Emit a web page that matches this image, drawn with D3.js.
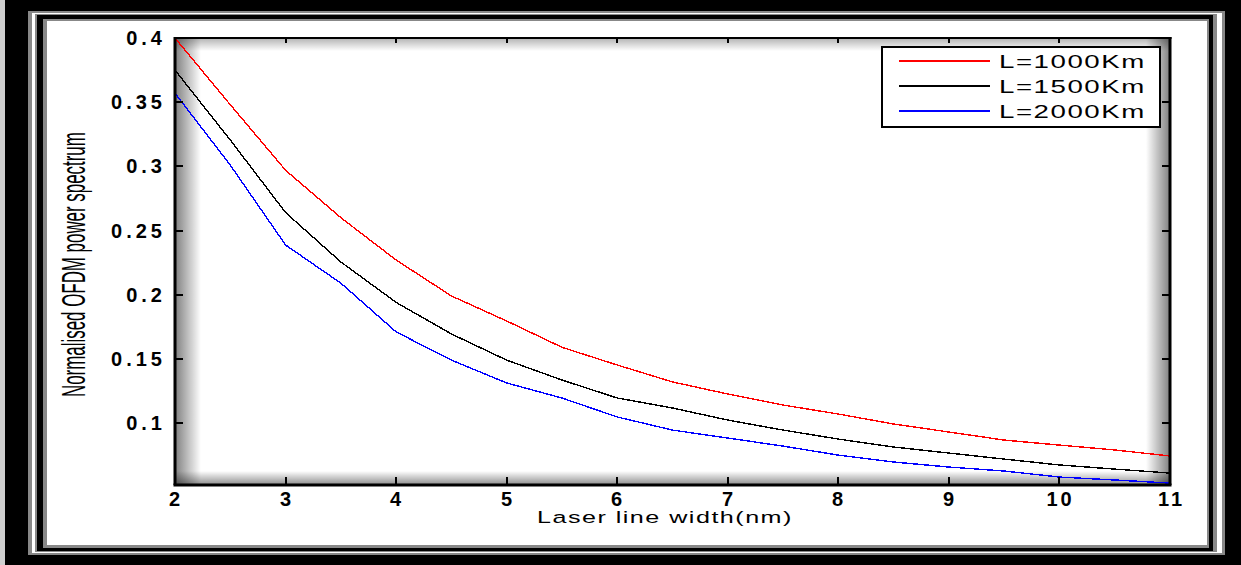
<!DOCTYPE html>
<meta charset="utf-8">
<html>
<head>
  <title>OFDM power spectrum vs laser line width</title>
  <style>
    body { margin: 0; background: #000; }
    svg { display: block; }
  </style>
</head>
<body>
  <script src="https://d3js.org/d3.v7.js"></script>
  <div id="chart"></div>
  <script>
    // data
    var lineWidth = [2, 2.5, 3, 3.5, 4, 4.5, 5, 5.5, 6, 6.5, 7, 7.5, 8, 8.5, 9, 9.5, 10, 10.5, 11];
    var L1000 = [0.400, 0.348, 0.297, 0.260, 0.227, 0.199, 0.1795, 0.159, 0.1452, 0.132, 0.1226, 0.114, 0.107, 0.0992, 0.0930, 0.0867, 0.0828, 0.0790, 0.0743];
    var L1500 = [0.375, 0.3205, 0.264, 0.2255, 0.194, 0.1694, 0.149, 0.1335, 0.1195, 0.1117, 0.1023, 0.0945, 0.0875, 0.0813, 0.0766, 0.0719, 0.0673, 0.0641, 0.061];
    var L2000 = [0.357, 0.301, 0.2387, 0.209, 0.171, 0.149, 0.1312, 0.1195, 0.1047, 0.0945, 0.0883, 0.082, 0.075, 0.0696, 0.0657, 0.0626, 0.0579, 0.0556, 0.0532];
    var seriesNames = ["L=1000Km", "L=1500Km", "L=2000Km"];
    var seriesColors = ["#ff0000", "#000000", "#0000ff"];
    var xTicks = [2, 3, 4, 5, 6, 7, 8, 9, 10, 11];
    var yTicks = [0.1, 0.15, 0.2, 0.25, 0.3, 0.35, 0.4];

    var W = 1241, H = 565;
    var plot = { left: 175, right: 1170, top: 38, bottom: 485 };

    var svg = d3.select("#chart").append("svg")
      .attr("width", W)
      .attr("height", H);

    var defs = svg.append("defs");

    // nested picture frame
    var frame = [
      [0, 0, W, H, "#000"],
      [0, 0, 5, H, "#cfcfcf"],
      [28, 11, 1225, 555, "#888"],
      [32, 13, 1222, 553, "#fff"],
      [35, 14, 1217, 552, "#888"],
      [37, 15, 1213, 551, "#000"],
      [43, 19, 1209, 548, "#888"],
      [47, 21, 1207, 545, "#fff"]
    ];
    frame.forEach(function (f) {
      svg.append("rect")
        .attr("x", f[0]).attr("y", f[1])
        .attr("width", f[2] - f[0]).attr("height", f[3] - f[1])
        .attr("fill", f[4]);
    });

    var x = d3.scaleLinear().domain([2, 11]).range([plot.left, plot.right]);
    var y = d3.scaleLinear().domain([0.0517, 0.4]).range([plot.bottom, plot.top]);

    // inner shading of the axes box
    function shade(id, x1, y1, x2, y2, rx, ry, rw, rh, op) {
      var g = defs.append("linearGradient").attr("id", id)
        .attr("x1", x1).attr("y1", y1).attr("x2", x2).attr("y2", y2);
      g.append("stop").attr("offset", "0").attr("stop-color", "#000").attr("stop-opacity", op);
      g.append("stop").attr("offset", "1").attr("stop-color", "#000").attr("stop-opacity", 0);
      svg.append("rect").attr("x", rx).attr("y", ry).attr("width", rw).attr("height", rh)
        .attr("fill", "url(#" + id + ")");
    }
    var pw = plot.right - plot.left, ph = plot.bottom - plot.top;
    shade("shL", 0, 0, 1, 0, plot.left, plot.top, 26, ph, 0.5);
    shade("shR", 1, 0, 0, 0, plot.right - 24, plot.top, 24, ph, 0.5);
    shade("shT", 0, 0, 0, 1, plot.left, plot.top, pw, 13, 0.3);
    shade("shB", 0, 1, 0, 0, plot.left, plot.bottom - 14, pw, 14, 0.45);

    // curves
    var series = [L1000, L1500, L2000];
    var line = d3.line()
      .x(function (d, i) { return x(lineWidth[i]); })
      .y(function (d) { return y(d); });
    series.forEach(function (s, k) {
      svg.append("path")
        .datum(s)
        .attr("d", line)
        .attr("fill", "none")
        .attr("stroke", seriesColors[k])
        .attr("stroke-width", 1.4)
        .attr("shape-rendering", "crispEdges");
    });

    // axes box
    svg.append("line").attr("x1", plot.left).attr("x2", plot.right + 1.5)
      .attr("y1", plot.top).attr("y2", plot.top).attr("stroke", "#000").attr("stroke-width", 2);
    svg.append("line").attr("x1", plot.left - 1.5).attr("x2", plot.right + 1.5)
      .attr("y1", plot.bottom).attr("y2", plot.bottom).attr("stroke", "#000").attr("stroke-width", 3);
    svg.append("line").attr("x1", plot.left).attr("x2", plot.left)
      .attr("y1", plot.top - 1).attr("y2", plot.bottom).attr("stroke", "#000").attr("stroke-width", 3);
    svg.append("line").attr("x1", plot.right).attr("x2", plot.right)
      .attr("y1", plot.top - 1).attr("y2", plot.bottom).attr("stroke", "#000").attr("stroke-width", 3);

    var tickFont = "'Liberation Sans', Arial, sans-serif";

    // stretch a text horizontally so it spans the given width
    function fit(sel, tx, ty, width, rot) {
      var len = sel.node().getComputedTextLength();
      sel.attr("transform", "translate(" + tx + "," + ty + ")" + (rot ? " rotate(" + rot + ")" : "") +
        " scale(" + (width / len) + ",1)");
    }

    // x ticks
    var xAxis = svg.append("g");
    xTicks.forEach(function (t) {
      var px = Math.round(x(t));
      xAxis.append("line").attr("x1", px).attr("x2", px)
        .attr("y1", plot.bottom).attr("y2", plot.bottom - 8)
        .attr("stroke", "#000").attr("stroke-width", 2);
      xAxis.append("line").attr("x1", px).attr("x2", px)
        .attr("y1", plot.top).attr("y2", plot.top + 5)
        .attr("stroke", "#000").attr("stroke-width", 2);
      xAxis.append("text")
        .attr("x", px + (t >= 10 ? 1.5 : 1)).attr("y", 506)
        .attr("text-anchor", "middle")
        .attr("font-family", tickFont).attr("font-weight", "bold")
        .attr("font-size", 20).attr("letter-spacing", 3)
        .text(t);
    });

    // y ticks
    var yAxis = svg.append("g");
    yTicks.forEach(function (t) {
      var py = Math.round(y(t));
      yAxis.append("line").attr("x1", plot.left).attr("x2", plot.left + 8)
        .attr("y1", py).attr("y2", py)
        .attr("stroke", "#000").attr("stroke-width", 2);
      yAxis.append("line").attr("x1", plot.right).attr("x2", plot.right - 8)
        .attr("y1", py).attr("y2", py)
        .attr("stroke", "#000").attr("stroke-width", 2);
      yAxis.append("text")
        .attr("x", 166).attr("y", py + 7)
        .attr("text-anchor", "end")
        .attr("font-family", tickFont).attr("font-weight", "bold")
        .attr("font-size", 20).attr("letter-spacing", 4)
        .text(d3.format("")(t));
    });

    // axis titles
    var xl = svg.append("text")
      .attr("font-family", tickFont).attr("font-size", 17)
      .attr("letter-spacing", 1)
      .text("Laser line width(nm)");
    fit(xl, 537, 523, 256);

    var yl = svg.append("text")
      .attr("font-family", "'Liberation Sans Narrow', 'Liberation Sans', Arial, sans-serif")
      .attr("font-size", 33)
      .text("Normalised OFDM power spectrum");
    fit(yl, 85, 397, 265, -90);

    // legend
    var lg = svg.append("g");
    lg.append("rect")
      .attr("x", 882).attr("y", 47).attr("width", 278).attr("height", 80)
      .attr("fill", "#fff").attr("stroke", "#000").attr("stroke-width", 2);
    var legendY = [61, 86, 111];
    seriesNames.forEach(function (name, k) {
      lg.append("line")
        .attr("x1", 899).attr("x2", 990)
        .attr("y1", legendY[k]).attr("y2", legendY[k])
        .attr("stroke", seriesColors[k]).attr("stroke-width", 1.2)
        .attr("shape-rendering", "crispEdges");
      var lt = lg.append("text")
        .attr("font-family", tickFont).attr("font-size", 18)
        .attr("letter-spacing", 1)
        .text(name);
      fit(lt, 999, legendY[k] + 7, 147);
    });
  </script>
</body>
</html>
